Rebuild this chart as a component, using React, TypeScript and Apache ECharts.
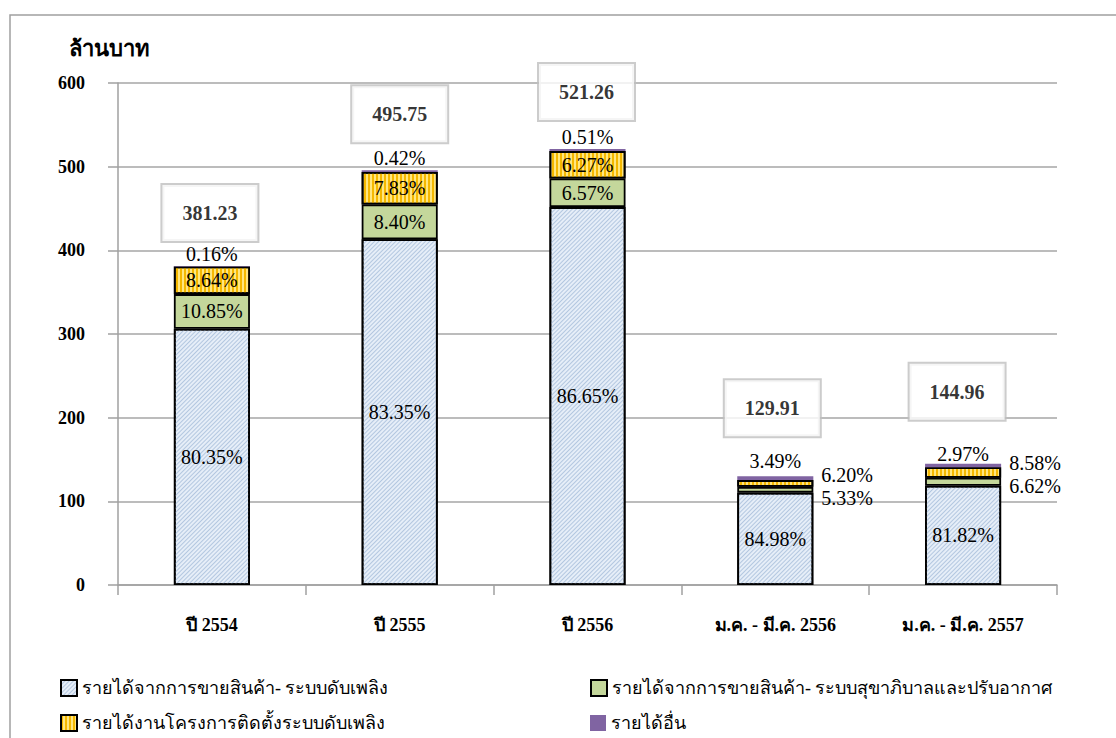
import React, { useEffect, useRef } from "react";
import * as echarts from "echarts";

const categories = ["ปี 2554", "ปี 2555", "ปี 2556", "ม.ค. - มี.ค. 2556", "ม.ค. - มี.ค. 2557"];
const seriesNames = [
  "รายได้จากการขายสินค้า- ระบบดับเพลิง",
  "รายได้จากการขายสินค้า- ระบบสุขาภิบาลและปรับอากาศ",
  "รายได้งานโครงการติดตั้งระบบดับเพลิง",
  "รายได้อื่น",
];
// totals (million baht)
const totals = [381.23, 495.75, 521.26, 129.91, 144.96];
// segment values (million baht)
const fireSales = [306.32, 413.21, 451.67, 110.4, 118.61];
const sanitarySales = [41.36, 41.64, 34.25, 6.92, 9.6];
const fireProjects = [32.94, 38.82, 32.68, 8.05, 12.44];
const otherIncome = [0.61, 2.08, 2.66, 4.53, 4.31];
// percentage labels
const firePct = [80.35, 83.35, 86.65, 84.98, 81.82];
const sanitaryPct = [10.85, 8.4, 6.57, 5.33, 6.62];
const projectPct = [8.64, 7.83, 6.27, 6.2, 8.58];
const otherPct = [0.16, 0.42, 0.51, 3.49, 2.97];
const yTicks = [0, 100, 200, 300, 400, 500, 600];

const SERIF = "'Liberation Serif', 'Times New Roman', serif";

export default function App() {
  const ref = useRef<HTMLDivElement>(null);
  useEffect(() => {
    if (!ref.current) return;
    const chart = echarts.init(ref.current, null, { renderer: "svg" });
    const pctFmt = (arr: number[]) => (p: any) => arr[p.dataIndex].toFixed(2) + "%";
    const labelBase = { show: true, fontSize: 20, fontFamily: SERIF, color: "#000" };
    const border = { borderColor: "#000", borderWidth: 1.8 };
    const sideLabel = (offsets: number[]) => (v: number, i: number) =>
      i >= 3
        ? { value: v, label: { position: "right", distance: 8, offset: [0, offsets[i - 3]] } }
        : v;
    chart.setOption({
      animation: false,
      backgroundColor: "#fff",
      textStyle: { fontFamily: SERIF },
      grid: { left: 118, right: 59, top: 83, bottom: 153, containLabel: false },
      graphic: [
        {
          type: "rect",
          shape: { x: 10, y: 15, width: 1300, height: 900 },
          style: { fill: "none", stroke: "#a0a0a0", lineWidth: 1.5 },
          silent: true,
        },
      ],
      legend: seriesNames.map((n, i) => ({
        data: [n],
        left: [55, 585, 55, 585][i],
        top: [674, 674, 709, 709][i],
        itemWidth: 16,
        itemHeight: 16,
        icon: "rect",
        selectedMode: false,
        textStyle: { fontSize: 18, fontFamily: SERIF, color: "#000" },
      })),
      xAxis: {
        type: "category",
        data: categories,
        axisLine: { lineStyle: { color: "#a0a0a0", width: 1.5 } },
        axisTick: { show: true, length: 10, lineStyle: { color: "#a0a0a0", width: 1.5 } },
        axisLabel: { fontSize: 18, fontWeight: "bold", color: "#000", fontFamily: SERIF, margin: 31 },
      },
      yAxis: {
        type: "value",
        min: 0,
        max: 600,
        interval: 100,
        name: "ล้านบาท",
        nameLocation: "end",
        nameGap: 24,
        nameTextStyle: { fontSize: 22, fontWeight: "bold", color: "#000", fontFamily: SERIF, align: "center", padding: [0, 18, 0, 0] },
        axisLine: { show: true, lineStyle: { color: "#a0a0a0", width: 1.5 } },
        axisTick: { show: true, length: 10, lineStyle: { color: "#a0a0a0", width: 1.5 } },
        splitLine: { lineStyle: { color: "#a6a6a6", width: 1.5 } },
        axisLabel: {
          fontSize: 18,
          fontWeight: "bold",
          color: "#000",
          fontFamily: SERIF,
          margin: 33,
          formatter: (v: number) => (yTicks.includes(v) ? String(v) : ""),
        },
      },
      series: [
        {
          name: seriesNames[0],
          type: "bar",
          stack: "total",
          barWidth: "40.5%",
          data: fireSales,
          itemStyle: {
            color: "#e6eef8",
            ...border,
            decal: { symbol: "rect", symbolSize: 1, color: "#b3c7e0", dashArrayX: [1, 0], dashArrayY: [1, 2], rotation: -Math.PI / 4 },
          },
          label: { ...labelBase, position: "inside", formatter: pctFmt(firePct) },
        },
        {
          name: seriesNames[1],
          type: "bar",
          stack: "total",
          data: sanitarySales.map(sideLabel([8, 4])),
          itemStyle: { color: "#c4d79b", ...border },
          label: { ...labelBase, position: "inside", formatter: pctFmt(sanitaryPct) },
        },
        {
          name: seriesNames[2],
          type: "bar",
          stack: "total",
          data: fireProjects.map(sideLabel([-8, -10])),
          itemStyle: {
            color: "#ffe680",
            ...border,
            decal: { symbol: "rect", symbolSize: 1, color: "#f5b800", dashArrayX: [1.2, 1.8], dashArrayY: [1, 0], rotation: 0 },
          },
          label: { ...labelBase, position: "inside", formatter: pctFmt(projectPct) },
        },
        {
          name: seriesNames[3],
          type: "bar",
          stack: "total",
          data: otherIncome.map((v, i) => ({ value: v, label: { distance: [2, 2, 2, 5, 0][i] } })),
          itemStyle: { color: "#8064a2", borderWidth: 0 },
          label: { ...labelBase, position: "top", formatter: pctFmt(otherPct) },
        },
        {
          name: "total",
          type: "scatter",
          symbolSize: 0,
          silent: true,
          z: 10,
          data: totals.map((v, i) => ({
            value: v,
            label: { distance: [25, 28, 29, 40, 44][i], offset: [[-2, 0, -1, -3, -6][i], 0] },
          })),
          label: {
            show: true,
            position: "top",
            formatter: (p: any) => totals[p.dataIndex].toFixed(2),
            fontSize: 20,
            fontWeight: "bold",
            color: "#000",
            fontFamily: SERIF,
            backgroundColor: "#fff",
            borderColor: "#bfbfbf",
            borderWidth: 2,
            padding: [18, 20],
          },
        },
      ],
    });
    return () => chart.dispose();
  }, []);
  return <div ref={ref} style={{ position: "fixed", left: 0, top: 0, width: 1116, height: 738 }} />;
}
